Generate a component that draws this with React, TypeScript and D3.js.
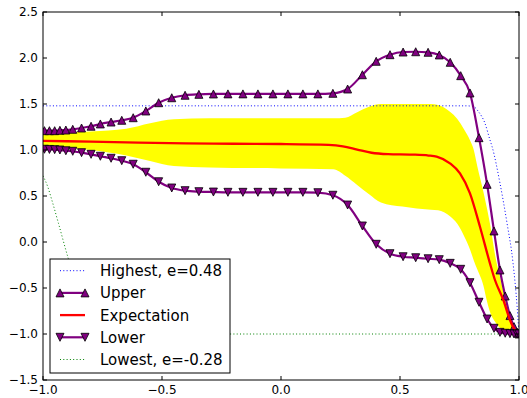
import React from "react";
import * as d3 from "d3";

const W = 527;
const H = 398;

const xTicks = [-1, -0.5, 0, 0.5, 1];
const yTicks = [-1.5, -1, -0.5, 0, 0.5, 1, 1.5, 2, 2.5];

const markerX = [
  -0.994, -0.973, -0.951, -0.929, -0.904, -0.875, -0.838, -0.798, -0.759, -0.714,
  -0.669, -0.621, -0.568, -0.514, -0.459, -0.403, -0.345, -0.284, -0.223, -0.16,
  -0.097, -0.034, 0.029, 0.092, 0.155, 0.218, 0.28, 0.342, 0.4, 0.458,
  0.513, 0.566, 0.618, 0.665, 0.711, 0.755, 0.794, 0.832, 0.866, 0.895,
  0.92, 0.942, 0.962, 0.979, 0.992, 1.0,
];
const upperY = [
  1.21, 1.21, 1.21, 1.214, 1.217, 1.225, 1.239, 1.258, 1.283, 1.304,
  1.323, 1.351, 1.424, 1.514, 1.568, 1.595, 1.605, 1.609, 1.61, 1.61,
  1.61, 1.61, 1.61, 1.61, 1.61, 1.616, 1.663, 1.818, 1.964, 2.036,
  2.065, 2.068, 2.062, 2.033, 1.953, 1.808, 1.62, 1.134, 0.627, 0.12,
  -0.304, -0.587, -0.8, -0.92, -0.98, -1.0,
];
const lowerY = [
  1.008, 1.006, 1.004, 1.0, 0.992, 0.986, 0.971, 0.953, 0.932, 0.91,
  0.884, 0.845, 0.758, 0.655, 0.587, 0.558, 0.547, 0.543, 0.54, 0.54,
  0.54, 0.54, 0.54, 0.54, 0.536, 0.508, 0.402, 0.174, -0.025, -0.127,
  -0.16, -0.171, -0.182, -0.192, -0.232, -0.297, -0.442, -0.655, -0.837, -0.938,
  -0.982, -0.992, -0.996, -1.0, -1.0, -1.0,
];

const expX = [-1, -0.8, -0.6, -0.4, -0.2, 0, 0.2, 0.26, 0.32, 0.38, 0.45, 0.55, 0.62, 0.654, 0.71, 0.752, 0.794, 0.836, 0.878, 0.899, 0.934, 0.962, 0.983, 1.0];
const expY = [1.1, 1.09, 1.08, 1.072, 1.068, 1.065, 1.055, 1.04, 1.005, 0.97, 0.955, 0.95, 0.94, 0.927, 0.855, 0.746, 0.529, 0.166, -0.232, -0.413, -0.63, -0.848, -0.957, -1.0];

const bandX = [-1, -0.8, -0.65, -0.55, -0.45, -0.3, 0, 0.22, 0.27, 0.32, 0.37, 0.42, 0.51, 0.63, 0.66, 0.71, 0.74, 0.77, 0.795, 0.81, 0.825, 0.85, 0.866, 0.88, 0.9, 0.923, 0.95, 0.975, 1.0];
const bandTop = [1.18, 1.2, 1.23, 1.29, 1.335, 1.344, 1.344, 1.344, 1.35, 1.41, 1.47, 1.5, 1.5, 1.5, 1.49, 1.416, 1.34, 1.22, 1.1, 1.0, 0.82, 0.55, 0.36, 0.17, -0.15, -0.413, -0.7, -0.9, -1.0];
const bandBottom = [1.036, 1.0, 0.94, 0.88, 0.825, 0.81, 0.8, 0.79, 0.72, 0.62, 0.52, 0.43, 0.385, 0.35, 0.345, 0.28, 0.2, 0.06, -0.087, -0.2, -0.3, -0.47, -0.65, -0.775, -0.87, -0.94, -0.97, -0.99, -1.0];

const highX = [-1, 0.78, 0.81, 0.83, 0.857, 0.878, 0.887, 0.92, 0.95, 0.975, 0.992, 1.0];
const highY = [1.48, 1.48, 1.47, 1.416, 1.29, 1.109, 1.036, 0.64, 0.2, -0.23, -0.7, -1.0];

const lowX = [-1, -0.98, -0.963, -0.935, -0.894, -0.85, -0.8, -0.75, -0.7, -0.6, 1.0];
const lowY = [0.72, 0.6, 0.457, 0.203, -0.177, -0.52, -0.8, -0.93, -0.98, -1.0, -1.0];

const legendLabels = ["Highest, e=0.48", "Upper", "Expectation", "Lower", "Lowest, e=-0.28"];

const PURPLE = "#800080";

function tri(cx: number, cy: number, s: number, up: boolean) {
  const h = s / 2;
  return up
    ? `M${cx},${cy - h}L${cx + h},${cy + h}L${cx - h},${cy + h}Z`
    : `M${cx},${cy + h}L${cx + h},${cy - h}L${cx - h},${cy - h}Z`;
}

export default function App() {
  const left = 43, right = 519, top = 12, bottom = 380;
  const x = d3.scaleLinear().domain([-1, 1]).range([left, right]);
  const y = d3.scaleLinear().domain([-1.5, 2.5]).range([bottom, top]);
  const fmt = d3.format(".1f");

  const line = d3
    .line<[number, number]>()
    .x((d) => x(d[0]))
    .y((d) => y(d[1]))
    .curve(d3.curveMonotoneX);
  const zip = (a: number[], b: number[]) => a.map((v, i) => [v, b[i]] as [number, number]);

  const area = d3
    .area<number>()
    .x((_, i) => x(bandX[i]))
    .y0((_, i) => y(bandBottom[i]))
    .y1((_, i) => y(bandTop[i]))
    .curve(d3.curveMonotoneX);

  const ms = 8;
  const font = "DejaVu Sans, sans-serif";
  const legY = [270.7, 292.9, 315.1, 337.3, 359.5];

  return (
    <svg
      width={W}
      height={H}
      style={{ position: "absolute", left: 0, top: 0, background: "#fff" }}
      fontFamily={font}
    >
      <defs>
        <clipPath id="plotclip">
          <rect x={left} y={top} width={right - left} height={bottom - top} />
        </clipPath>
      </defs>
      <rect x={0} y={0} width={W} height={H} fill="#fff" />
      <g clipPath="url(#plotclip)">
        <path d={area(bandX) || ""} fill="#ffff00" stroke="none" />
        <path d={line(zip(highX, highY)) || ""} fill="none" stroke="#0000ff" strokeWidth={1} strokeDasharray="1,2.3" />
        <path d={line(zip(lowX, lowY)) || ""} fill="none" stroke="#008000" strokeWidth={1} strokeDasharray="1,2.3" />
        <path d={line(zip(markerX, upperY)) || ""} fill="none" stroke={PURPLE} strokeWidth={2.2} />
        {markerX.map((v, i) => (
          <path key={"u" + i} d={tri(x(v), y(upperY[i]), ms, true)} fill={PURPLE} stroke="#000" strokeWidth={0.8} />
        ))}
        <path d={line(zip(expX, expY)) || ""} fill="none" stroke="#ff0000" strokeWidth={2.3} />
        <path d={line(zip(markerX, lowerY)) || ""} fill="none" stroke={PURPLE} strokeWidth={2.2} />
        {markerX.map((v, i) => (
          <path key={"l" + i} d={tri(x(v), y(lowerY[i]), ms, false)} fill={PURPLE} stroke="#000" strokeWidth={0.8} />
        ))}
      </g>

      {/* frame */}
      <rect x={left} y={top} width={right - left} height={bottom - top} fill="none" stroke="#000" strokeWidth={1} />

      {/* ticks */}
      {xTicks.map((t) => (
        <g key={"xt" + t}>
          <line x1={x(t)} x2={x(t)} y1={bottom} y2={bottom - 4} stroke="#000" />
          <line x1={x(t)} x2={x(t)} y1={top} y2={top + 4} stroke="#000" />
          <text x={x(t)} y={394} textAnchor="middle" fontSize={12}>
            {fmt(t)}
          </text>
        </g>
      ))}
      {yTicks.map((t) => (
        <g key={"yt" + t}>
          <line x1={left} x2={left + 4} y1={y(t)} y2={y(t)} stroke="#000" />
          <line x1={right} x2={right - 4} y1={y(t)} y2={y(t)} stroke="#000" />
          <text x={38} y={y(t)} dy="0.36em" textAnchor="end" fontSize={12}>
            {fmt(t)}
          </text>
        </g>
      ))}

      {/* legend */}
      <g>
        <rect x={50} y={259} width={180} height={114} fill="#fff" stroke="#000" strokeWidth={1} />
        <line x1={60} x2={85} y1={legY[0]} y2={legY[0]} stroke="#0000ff" strokeWidth={1} strokeDasharray="1,2.3" />
        <line x1={60} x2={85} y1={legY[1]} y2={legY[1]} stroke={PURPLE} strokeWidth={2.2} />
        <path d={tri(60, legY[1], ms, true)} fill={PURPLE} stroke="#000" strokeWidth={0.8} />
        <path d={tri(85, legY[1], ms, true)} fill={PURPLE} stroke="#000" strokeWidth={0.8} />
        <line x1={60} x2={85} y1={legY[2]} y2={legY[2]} stroke="#ff0000" strokeWidth={2.3} />
        <line x1={60} x2={85} y1={legY[3]} y2={legY[3]} stroke={PURPLE} strokeWidth={2.2} />
        <path d={tri(60, legY[3], ms, false)} fill={PURPLE} stroke="#000" strokeWidth={0.8} />
        <path d={tri(85, legY[3], ms, false)} fill={PURPLE} stroke="#000" strokeWidth={0.8} />
        <line x1={60} x2={85} y1={legY[4]} y2={legY[4]} stroke="#008000" strokeWidth={1} strokeDasharray="1,2.3" />
        {legendLabels.map((l, i) => (
          <text key={l} x={100} y={legY[i]} dy="0.36em" fontSize={15}>
            {l}
          </text>
        ))}
      </g>
    </svg>
  );
}
